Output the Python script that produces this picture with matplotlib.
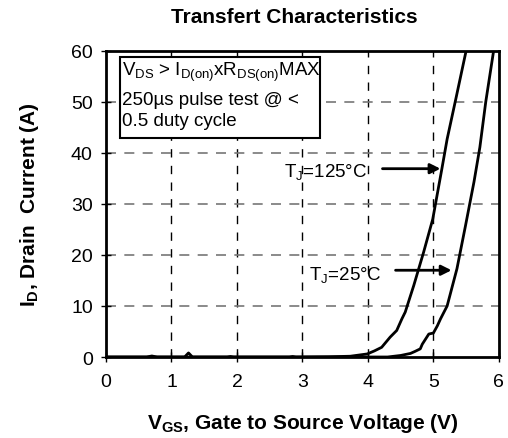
import matplotlib
matplotlib.use("Agg")
import matplotlib.pyplot as plt
from matplotlib.patches import Rectangle

plt.rcParams['font.family'] = ['Liberation Sans', 'DejaVu Sans']
plt.rcParams['mathtext.fontset'] = 'custom'
plt.rcParams['mathtext.rm'] = 'Liberation Sans'
plt.rcParams['mathtext.bf'] = 'Liberation Sans:bold'
plt.rcParams['mathtext.default'] = 'regular'

# curves
vgs_125 = [0, 0.3, 0.62, 0.7, 0.78, 1.2, 1.26, 1.32, 1.85, 1.9, 1.95, 2.8, 2.85, 2.9,
           3.4, 3.73, 3.99, 4.1, 4.21, 4.34, 4.44, 4.52, 4.57, 4.70, 4.85, 4.99,
           5.13, 5.21, 5.35, 5.50]
id_125 = [0, 0, 0, 0.2, 0, 0, 0.8, 0, 0, 0.1, 0, 0, 0.1, 0,
          0.05, 0.15, 0.6, 1.2, 1.9, 3.9, 5.2, 7.5, 8.8, 14, 20.5, 27,
          36.9, 42.7, 51, 60]

vgs_25 = [0, 4.3, 4.5, 4.65, 4.72, 4.80, 4.83, 4.88, 4.93, 5.0, 5.06, 5.11, 5.21,
          5.36, 5.49, 5.62, 5.71, 5.80, 5.92]
id_25 = [0, 0, 0.3, 0.7, 1.1, 1.6, 2.5, 3.5, 4.5, 4.7, 6.1, 7.5, 10,
         17.3, 25.7, 34.3, 41.1, 50, 60]

xticks = [0, 1, 2, 3, 4, 5, 6]
yticks = [0, 10, 20, 30, 40, 50, 60]

fig = plt.figure(figsize=(5.08, 4.39), dpi=100)
ax = fig.add_axes([0.2087, 0.1845, 0.7733, 0.6975])

for x in xticks[1:-1]:
    ax.axvline(x, color='black', lw=1, ls=(0, (6, 6)), zorder=1)
for y in yticks[1:-1]:
    ax.axhline(y, color='#777777', lw=1.2, ls=(0, (6, 5)), zorder=1)

ax.plot(vgs_125, id_125, color='black', lw=2, zorder=3)
ax.plot(vgs_25, id_25, color='black', lw=2, zorder=3)

ax.set_xlim(0, 6)
ax.set_ylim(0, 60)
ax.set_xticks(xticks)
ax.set_yticks(yticks)
ax.tick_params(direction='inout', length=7, width=1, labelsize=14)
ax.tick_params(axis='x', pad=8)
ax.tick_params(axis='y', pad=6)
for s in ax.spines.values():
    s.set_linewidth(2)
    s.set_zorder(4)

# condition box
fs = 13.5
ax.add_patch(Rectangle((0.21, 42.9), 3.06, 15.9, facecolor='white',
                       edgecolor='black', lw=1.5, zorder=5))
ax.text(0.25, 56.0, r'V$_{DS}$ > I$_{D(on)}$xR$_{DS(on)}$MAX', fontsize=fs,
        va='center', ha='left', zorder=6)
ax.text(0.25, 50.5, '250µs pulse test @ <', fontsize=fs, va='center', ha='left', zorder=6)
ax.text(0.25, 46.4, '0.5 duty cycle', fontsize=fs, va='center', ha='left', zorder=6)

ax.text(3.35, 36.5, r'T$_J$=125°C', fontsize=fs, ha='center', va='center', zorder=6)
ax.annotate('', xy=(5.15, 36.9), xytext=(4.18, 36.9),
            arrowprops=dict(arrowstyle='-|>,head_length=0.6,head_width=0.3', lw=2, color='black'),
            zorder=6)
ax.text(3.65, 16.3, r'T$_J$=25°C', fontsize=fs, ha='center', va='center', zorder=6)
ax.annotate('', xy=(5.32, 17.0), xytext=(4.38, 17.0),
            arrowprops=dict(arrowstyle='-|>,head_length=0.6,head_width=0.3', lw=2, color='black'),
            zorder=6)

ax.set_xlabel(r'V$_{GS}$, Gate to Source Voltage (V)', fontsize=15, fontweight='bold')
ax.set_ylabel(r'I$_D$, Drain  Current (A)', fontsize=15, fontweight='bold')
ax.xaxis.label.set_va('center')
ax.yaxis.label.set_va('center')
ax.xaxis.set_label_coords(0.5, -0.215)
ax.yaxis.set_label_coords(-0.195, 0.5)
fig.text(0.58, 0.961, 'Transfert Characteristics', fontsize=15, fontweight='bold',
         ha='center', va='center')

fig.savefig('out.png', dpi=100)
